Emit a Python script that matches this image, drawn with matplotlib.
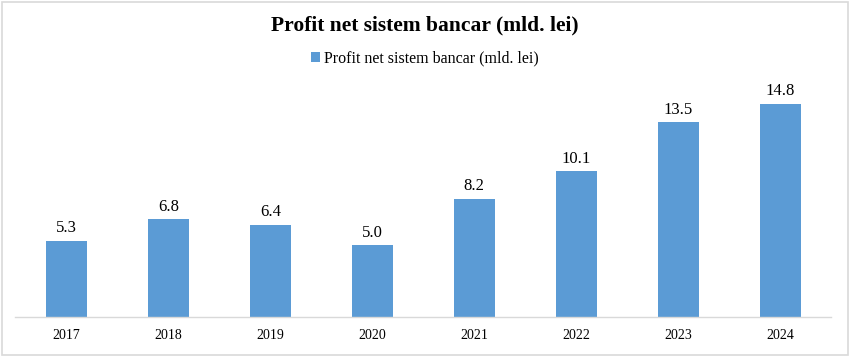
import matplotlib
matplotlib.use("Agg")
import matplotlib.pyplot as plt
from matplotlib.patches import Rectangle

years = ["2017", "2018", "2019", "2020", "2021", "2022", "2023", "2024"]
profit = [5.3, 6.8, 6.4, 5.0, 8.2, 10.1, 13.5, 14.8]
series_name = "Profit net sistem bancar (mld. lei)"
title = "Profit net sistem bancar (mld. lei)"

plt.rcParams['font.family'] = ['Liberation Serif', 'DejaVu Serif']

fig = plt.figure(figsize=(8.5, 3.56), dpi=100)
ax = fig.add_axes([0.018, 0.1096, 0.960, 0.648])

x = range(len(years))
bars = ax.bar(x, profit, width=0.40, color="#5B9BD5", label=series_name, zorder=2)
for xi, v in zip(x, profit):
    ax.text(xi, v + 0.3, f"{v:.1f}", ha="center", va="bottom", fontsize=12, color="#000000")

ax.set_xlim(-0.5, len(years) - 0.5)
ax.set_ylim(0, 16)
ax.set_xticks(list(x))
ax.set_xticklabels(years, fontsize=10)
ax.tick_params(axis="x", length=0, pad=9)
ax.set_yticks([])
for s in ["top", "right", "left"]:
    ax.spines[s].set_visible(False)
ax.spines["bottom"].set_color("#d9d9d9")
ax.spines["bottom"].set_linewidth(1.0)

fig.text(0.5, 0.928, title, ha="center", va="center", fontsize=15.5, fontweight="bold")
leg = fig.legend(handles=[bars], labels=[series_name], loc="center", bbox_to_anchor=(0.5, 0.835),
                 frameon=False, fontsize=11.5, handlelength=0.55, handleheight=0.55, handletextpad=0.3)

fig.patches.append(Rectangle((0.002, 0.004), 0.996, 0.99, transform=fig.transFigure, fill=False,
                             edgecolor="#d9d9d9", linewidth=1.2))

fig.savefig("out.png", dpi=100, facecolor="white")
